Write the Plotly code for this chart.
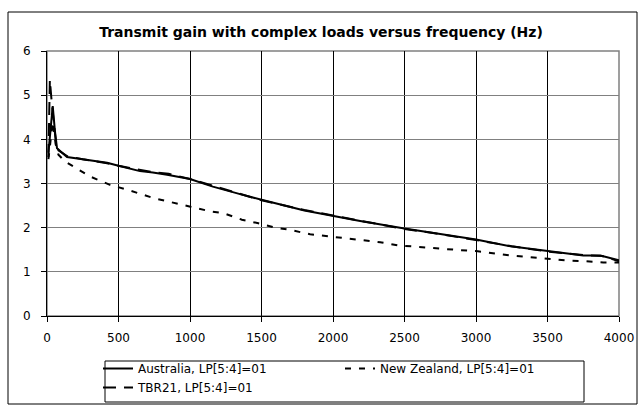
import plotly.graph_objects as go

# -------------------------------------------------
# Data
# -------------------------------------------------
AUS_FREQ = [10, 25, 40, 55, 70, 140, 250, 420, 500, 650, 740, 840, 1000, 1160,
            1350, 1500, 1800, 2000, 2190, 2500, 2700, 3000, 3240, 3500, 3750,
            3870, 4000]
AUS_GAIN = [3.7, 4.3, 4.75, 4.2, 3.8, 3.6, 3.55, 3.47, 3.4, 3.28, 3.25, 3.2,
            3.1, 2.93, 2.76, 2.63, 2.39, 2.26, 2.15, 1.98, 1.88, 1.73, 1.58,
            1.47, 1.37, 1.37, 1.26]

NZ_FREQ = [10, 25, 40, 60, 80, 126, 184, 300, 440, 560, 745, 980, 1140, 1234,
           1363, 1478, 1596, 1700, 1840, 1980, 2100, 2210, 2330, 2450, 2550,
           2660, 2890, 3000, 3240, 3430, 3500, 3660, 3770, 3890, 4000]
NZ_GAIN = [3.55, 4.0, 4.4, 3.9, 3.65, 3.5, 3.39, 3.16, 2.97, 2.86, 2.67, 2.5,
           2.37, 2.33, 2.18, 2.1, 2.0, 1.95, 1.85, 1.8, 1.75, 1.71, 1.67, 1.6,
           1.57, 1.55, 1.49, 1.47, 1.37, 1.32, 1.29, 1.25, 1.24, 1.21, 1.21]

TBR_FREQ = [10, 15, 20, 30, 45, 60, 80, 140, 250, 420, 500, 650, 750, 850,
            1000, 1160, 1350, 1500, 1800, 2000, 2200, 2500, 2700, 3000, 3250,
            3500, 3750, 3880, 4000]
TBR_GAIN = [3.6, 4.5, 5.35, 4.95, 4.5, 4.0, 3.75, 3.62, 3.55, 3.46, 3.4, 3.3,
            3.25, 3.22, 3.1, 2.95, 2.77, 2.62, 2.4, 2.27, 2.15, 1.97, 1.88,
            1.72, 1.58, 1.46, 1.38, 1.36, 1.24]

SERIES_NAMES = ["Australia, LP[5:4]=01", "New Zealand, LP[5:4]=01",
                "TBR21, LP[5:4]=01"]

X_TICKS = [0, 500, 1000, 1500, 2000, 2500, 3000, 3500, 4000]
Y_TICKS = [0, 1, 2, 3, 4, 5, 6]

FONT = "DejaVu Sans, Arial, sans-serif"

# plot area in pixels: x 47..619, y 51..316
PX_L, PX_R, PX_T, PX_B = 47, 619, 51, 316
PW, PH = PX_R - PX_L, PX_B - PX_T


def px_x(x):
    return (x - PX_L) / PW


def px_y(y):
    return (PX_B - y) / PH


# -------------------------------------------------
# Figure
# -------------------------------------------------
fig = go.Figure()
fig.add_trace(go.Scatter(x=AUS_FREQ, y=AUS_GAIN, mode="lines",
                         name=SERIES_NAMES[0],
                         line=dict(color="black", width=2)))
fig.add_trace(go.Scatter(x=NZ_FREQ, y=NZ_GAIN, mode="lines",
                         name=SERIES_NAMES[1],
                         line=dict(color="black", width=2, dash="6px,8px")))
fig.add_trace(go.Scatter(x=TBR_FREQ, y=TBR_GAIN, mode="lines",
                         name=SERIES_NAMES[2],
                         line=dict(color="black", width=2, dash="13px,8px")))

fig.update_layout(
    width=642, height=408,
    margin=dict(l=PX_L, r=642 - PX_R, t=PX_T, b=408 - PX_B, autoexpand=False),
    paper_bgcolor="white", plot_bgcolor="white",
    font=dict(family=FONT, size=11, color="black"),
    title=dict(text="<b>Transmit gain with complex loads versus frequency (Hz)</b>",
               x=0.5, xref="container", xanchor="center",
               y=1 - 32 / 408, yanchor="middle", automargin=False,
               font=dict(family=FONT, size=14, color="black")),
    showlegend=True,
    legend=dict(orientation="h", x=px_x(98), xanchor="left",
                y=px_y(354), yanchor="top",
                borderwidth=0, bgcolor="rgba(0,0,0,0)",
                entrywidth=197, entrywidthmode="pixels",
                font=dict(family=FONT, size=12, color="black"),
                traceorder="normal"),
)

fig.update_xaxes(range=[0, 4000], tickvals=X_TICKS, automargin=False,
                 showgrid=True, gridcolor="black", gridwidth=1,
                 showline=True, linecolor="black", linewidth=1,
                 ticks="outside", ticklen=5, tickcolor="black",
                 ticklabelstandoff=6,
                 tickfont=dict(family=FONT, size=12, color="black"),
                 zeroline=False, fixedrange=True)
fig.update_yaxes(range=[0, 6], tickvals=Y_TICKS, automargin=False,
                 showgrid=True, gridcolor="#808080", gridwidth=1,
                 showline=True, linecolor="black", linewidth=1,
                 ticks="outside", ticklen=5, tickcolor="black",
                 ticklabelstandoff=8,
                 tickfont=dict(family=FONT, size=12, color="black"),
                 zeroline=False, fixedrange=True)

# gray frame of the plot area (top/right)
fig.add_shape(type="rect", xref="paper", yref="paper", x0=0, x1=1, y0=0, y1=1,
              line=dict(color="#808080", width=1.5), layer="below")

# legend box
fig.add_shape(type="rect", xref="paper", yref="paper",
              x0=px_x(105), x1=px_x(584), y0=px_y(402), y1=px_y(361),
              line=dict(color="black", width=1))

# outer chart border
fig.add_shape(type="rect", xref="paper", yref="paper",
              x0=px_x(8), x1=px_x(637), y0=px_y(404), y1=px_y(12),
              line=dict(color="black", width=1))

# drop the page's default body margin so the figure sits at (0, 0)
fig.write_html("out.html",
               config={"displayModeBar": False},
               post_script="document.body.style.margin='0';"
                           "document.body.style.overflow='hidden';")
